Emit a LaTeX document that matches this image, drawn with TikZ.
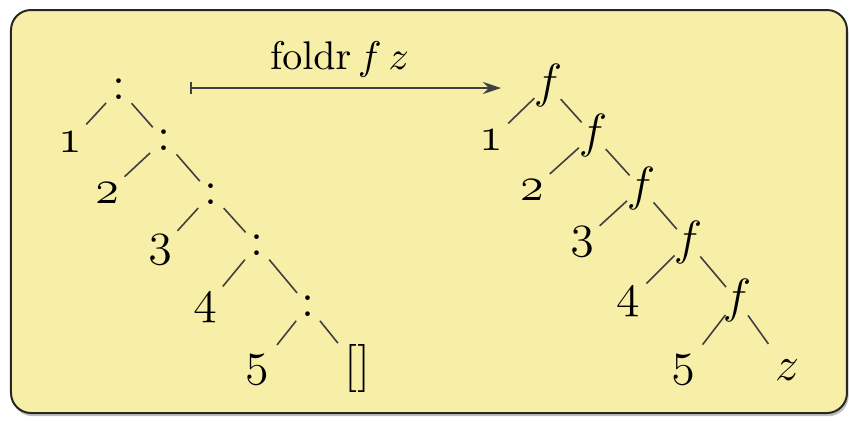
\documentclass[tikz,border=0pt]{standalone}
\usepackage{amsmath}
\usepackage{tikz}
\usetikzlibrary{arrows.meta, positioning, shadows}
\definecolor{foldyellow}{RGB}{247, 239, 168}
\definecolor{folddark}{RGB}{40, 40, 35}

\tikzset{
  tnode/.style={font=\large, inner sep=1.25pt},
  tedge/.style={draw=black!75, line width=0.4pt, shorten <=4.75pt, shorten >=4.25pt},
  maparrow/.style={draw=black!75, line width=0.45pt,
    {Bar[width=3pt]}-{Stealth[length=4.5pt, width=3pt]}},
}

\begin{document}
\begin{tikzpicture}[x=0.25pt, y=-0.25pt]
\useasboundingbox (0,0) rectangle (849,420);

% Background panel
\draw[draw=folddark, line width=0.5pt, fill=foldyellow, rounded corners=5pt,
      drop shadow={shadow xshift=0.4pt, shadow yshift=-0.8pt, opacity=0.5}]
      (11,10) rectangle (847,413);

% The list 1 : 2 : 3 : 4 : 5 : []
\foreach \n/\x/\y in {0/119/89, 1/164/140, 2/211/194, 3/257/245, 4/308/306}
    \node[tnode] (cons\n) at (\x,\y) {:};
\foreach \n/\x/\y in {1/70/142, 2/107/193, 3/160/250, 4/205/308, 5/257/370}
    \node[tnode] (lval\n) at (\x,\y) {$\mathnormal{\n}$};
\node[tnode] (nil) at (358,368) {[]};

\foreach \p/\n in {0/1, 1/2, 2/3, 3/4}
    \draw[tedge] (cons\p.center) -- (cons\n.center);
\foreach \p/\n/\s in {0/1/6, 1/2/6, 2/3/6.5, 3/4/7, 4/5/8}
    \draw[tedge, shorten >=\s pt] (cons\p.center) -- (lval\n.center);
\draw[tedge, shorten >=8pt] (cons4.center) -- (nil.center);

% The folded result f 1 (f 2 (... (f 5 z)))
\foreach \n/\x/\y in {0/548/85, 1/593/135, 2/641/188, 3/688/242, 4/737/300}
    \node[tnode] (app\n) at (\x,\y) {$f$};
\foreach \n/\x/\y in {1/491/140, 2/532/190, 3/582/242, 4/628/302, 5/683/370}
    \node[tnode] (rval\n) at (\x,\y) {$\mathnormal{\n}$};
\node[tnode] (zero) at (787,370) {$z$};

\foreach \p/\n in {0/1, 1/2, 2/3, 3/4}
    \draw[tedge] (app\p.center) -- (app\n.center);
\foreach \p/\n/\s in {0/1/6, 1/2/6, 2/3/6, 3/4/6.5, 4/5/8}
    \draw[tedge, shorten >=\s pt] (app\p.center) -- (rval\n.center);
\draw[tedge, shorten >=8pt] (app4.center) -- (zero.center);

% The mapping arrow
\coordinate (mapstart) at (190,88);
\coordinate (mapend) at (501,88);
\draw[maparrow] (mapstart) -- node[above, inner sep=2.5pt, xshift=-1.5pt]
    {$\mathrm{foldr}\,f\,z$} (mapend);
\end{tikzpicture}
\end{document}
